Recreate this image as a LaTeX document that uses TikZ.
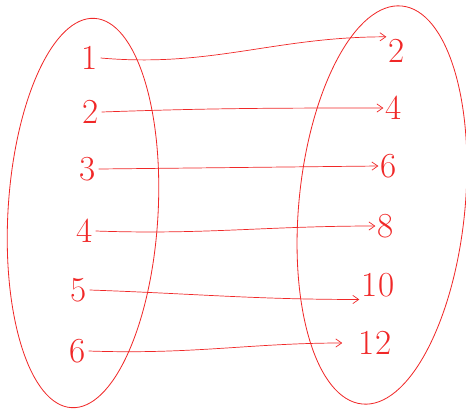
\documentclass[tikz,border=0pt]{standalone}
\usepackage{xcolor}
\usetikzlibrary{arrows.meta}
\definecolor{pen}{RGB}{240,40,40}

\begin{document}
\begin{tikzpicture}[x=0.03cm, y=-0.03cm,
  num/.style={text=pen, font=\fontsize{30}{30}\selectfont, inner sep=2pt},
  maparr/.style={draw=pen, line width=0.6pt, -{Straight Barb[length=5pt,width=7pt]}},
  setline/.style={draw=pen, line width=0.7pt},
]
  \useasboundingbox (0,0) rectangle (466,410);

  % the two sets
  \draw[setline, rotate around={-3.4:(83,213)}] (83,213) ellipse [x radius=75, y radius=195];
  \draw[setline, rotate around={-5.7:(382,205)}] (382,205) ellipse [x radius=83, y radius=200];

  % domain
  \node[num] (l1) at (90,58) {1};
  \node[num] (l2) at (91,112) {2};
  \node[num] (l3) at (88,169) {3};
  \node[num] (l4) at (85,231) {4};
  \node[num] (l5) at (79,290) {5};
  \node[num] (l6) at (78,351) {6};

  % image
  \node[num] (r1) at (397,51) {2};
  \node[num] (r2) at (394,108) {4};
  \node[num] (r3) at (389,166) {6};
  \node[num] (r4) at (386,226) {8};
  \node[num] (r5) at (378,285) {10};
  \node[num] (r6) at (375,343) {12};

  \draw[maparr] (l1.east) to[out=-5, in=180] (r1.north west);
  \draw[maparr] (l2.east) to[out=2, in=180] (r2.west);
  \draw[maparr] (l3.east) -- (r3.west);
  \draw[maparr] (l4.east) to[out=-2, in=180] (r4.west);
  \draw[maparr] (l5.east) to[out=-2, in=180] (r5.south west);
  \draw[maparr, shorten >=12] (l6.east) to[out=-2, in=180] (r6.west);
\end{tikzpicture}
\end{document}
